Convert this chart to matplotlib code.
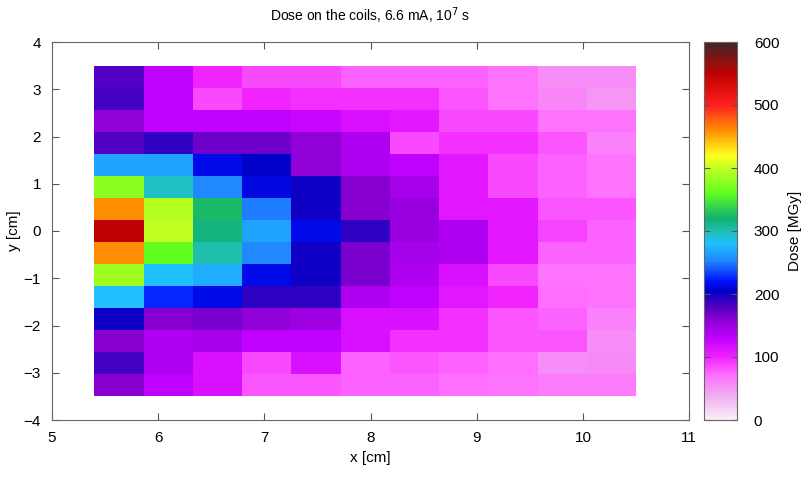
import numpy as np
import matplotlib
matplotlib.use('Agg')
from matplotlib import pyplot as plt
from matplotlib.colors import LinearSegmentedColormap

plt.rcParams['font.family'] = ['Liberation Sans', 'DejaVu Sans']

# cell edges (cm)
x_edges = np.linspace(5.4, 10.5, 12)
y_edges = np.linspace(-3.5, 3.5, 16)

# dose per cell [MGy], one list per column, rows top (y=+3.5) -> bottom (y=-3.5)
col1 = [180, 185, 155, 180, 265, 375, 460, 550, 460, 385, 280, 200, 160, 185, 160]
col2 = [130, 130, 130, 190, 265, 295, 395, 400, 360, 280, 225, 160, 140, 140, 130]
col3 = [100, 85, 130, 170, 215, 255, 325, 315, 300, 270, 215, 165, 145, 115, 115]
col4 = [85, 100, 130, 170, 205, 212, 250, 265, 255, 215, 190, 155, 130, 85, 80]
col5 = [85, 95, 125, 155, 155, 200, 200, 215, 200, 200, 190, 148, 130, 115, 80]
col6 = [75, 95, 115, 140, 140, 160, 160, 190, 165, 165, 140, 115, 115, 75, 75]
col7 = [75, 95, 110, 85, 130, 145, 150, 150, 145, 140, 130, 115, 95, 80, 75]
col8 = [75, 80, 85, 95, 110, 110, 110, 140, 140, 115, 110, 95, 95, 75, 72]
col9 = [70, 68, 85, 95, 85, 85, 110, 110, 110, 85, 100, 80, 80, 72, 68]
col10 = [55, 60, 70, 80, 75, 75, 80, 88, 75, 70, 72, 75, 80, 55, 65]
col11 = [55, 50, 70, 62, 70, 68, 80, 75, 75, 70, 68, 62, 55, 58, 65]

dose = np.array([col1, col2, col3, col4, col5, col6, col7, col8,
                 col9, col10, col11]).T[::-1]

# colour scale like the gnuplot palette of the original
stops = [(0, '#f8f0f8'), (40, '#f0a8f0'), (70, '#ff70ff'), (100, '#f020ff'),
         (130, '#c000ff'), (160, '#8800d0'), (185, '#4000c0'), (205, '#0000c8'),
         (220, '#0010ff'), (250, '#2080ff'), (280, '#20c0ff'), (300, '#20c0b0'),
         (320, '#10b070'), (360, '#60ff20'), (400, '#c0ff20'), (420, '#ffff20'),
         (460, '#ff9000'), (500, '#ff2020'), (550, '#c00000'), (600, '#402828')]
cmap = LinearSegmentedColormap.from_list('dose', [(v / 600, c) for v, c in stops])

fig = plt.figure(figsize=(8.06, 4.8), dpi=100)
ax = fig.add_axes([0.0645, 0.125, 0.7905, 0.7875])
cax = fig.add_axes([0.8735, 0.125, 0.041, 0.7875])

mesh = ax.pcolormesh(x_edges, y_edges, dose, cmap=cmap, vmin=0, vmax=600)
ax.set_xlim(5, 11)
ax.set_ylim(-4, 4)
ax.set_xticks(range(5, 12))
ax.set_yticks(range(-4, 5))
ax.tick_params(direction='in', top=True, right=True, length=5, labelsize=11,
               color='#555555', pad=8)
for s in ax.spines.values():
    s.set_color('#666666')
ax.set_xlabel('x [cm]', fontsize=11, labelpad=4)
ax.set_ylabel('y [cm]', fontsize=11, labelpad=2)
ax.set_title('Dose on the coils, 6.6 mA, 10$^7$ s', fontsize=10, pad=15)

cb = fig.colorbar(mesh, cax=cax)
cb.set_ticks(range(0, 601, 100))
cb.ax.tick_params(direction='in', left=True, right=True, length=4, labelsize=11,
                  color='#555555', pad=12)
cb.outline.set_edgecolor('#666666')
cb.set_label('Dose [MGy]', fontsize=11, labelpad=6)

fig.savefig('out.png', dpi=100)
